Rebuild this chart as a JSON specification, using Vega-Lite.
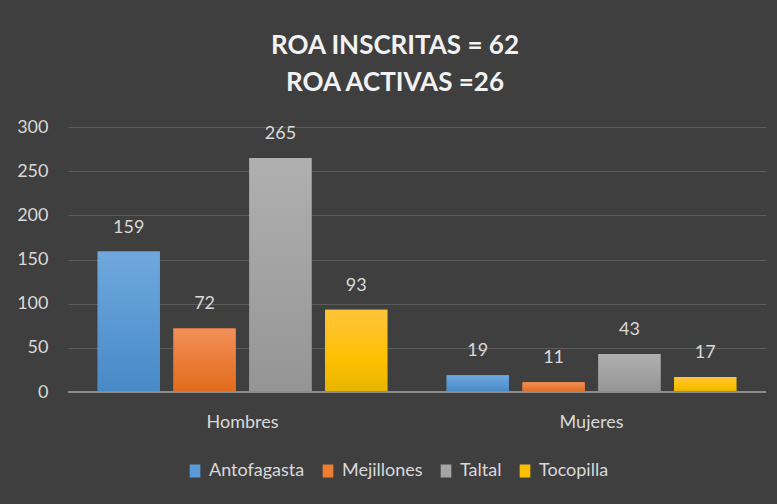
{
  "$schema": "https://vega.github.io/schema/vega-lite/v6.json",
  "width": 698,
  "height": 265,
  "autosize": {"type": "none"},
  "padding": {"left": 68, "top": 127, "right": 11, "bottom": 112},
  "background": "#3f3f3f",
  "title": {
    "text": ["ROA INSCRITAS = 62", "ROA ACTIVAS =26"],
    "fontSize": 26,
    "font": "Lato",
    "fontWeight": "bold",
    "color": "#f2f2f2",
    "lineHeight": 37,
    "anchor": "middle",
    "dx": -22,
    "offset": 22
  },
  "data": {
    "values": [
      {"sexo": "Hombres", "comuna": "Antofagasta", "valor": 159},
      {"sexo": "Hombres", "comuna": "Mejillones", "valor": 72},
      {"sexo": "Hombres", "comuna": "Taltal", "valor": 265},
      {"sexo": "Hombres", "comuna": "Tocopilla", "valor": 93},
      {"sexo": "Mujeres", "comuna": "Antofagasta", "valor": 19},
      {"sexo": "Mujeres", "comuna": "Mejillones", "valor": 11},
      {"sexo": "Mujeres", "comuna": "Taltal", "valor": 43},
      {"sexo": "Mujeres", "comuna": "Tocopilla", "valor": 17}
    ]
  },
  "encoding": {
    "x": {
      "field": "sexo", "type": "nominal", "title": null,
      "scale": {"paddingInner": 0.17, "paddingOuter": 0.085},
      "axis": {"labelAngle": 0, "domain": false, "ticks": false, "labelPadding": 21, "labelFontSize": 18, "labelColor": "#d9d9d9", "labelFont": "Lato"}
    },
    "xOffset": {
      "field": "comuna", "type": "nominal",
      "scale": {"domain": ["Antofagasta", "Mejillones", "Taltal", "Tocopilla"], "paddingInner": 0.18, "paddingOuter": 0}
    },
    "y": {
      "field": "valor", "type": "quantitative", "title": null,
      "scale": {"domain": [0, 300]},
      "axis": {"values": [0, 50, 100, 150, 200, 250, 300], "domain": false, "ticks": false, "labelPadding": 20, "labelFontSize": 18, "labelColor": "#d9d9d9", "labelFont": "Lato", "gridColor": "#5c5c5c", "gridWidth": 1}
    }
  },
  "layer": [
    {
      "mark": {"type": "bar"},
      "encoding": {
        "color": {
          "field": "comuna", "type": "nominal",
          "scale": {"domain": ["Antofagasta", "Mejillones", "Taltal", "Tocopilla"], "range": ["#5b9bd5", "#ed7d31", "#a5a5a5", "#ffc000"]},
          "legend": {
            "title": null, "orient": "none", "direction": "horizontal",
            "legendX": 118, "legendY": 335,
            "symbolType": "M-0.82,-1H0.82V1H-0.82Z", "symbolSize": 169, "symbolStrokeWidth": 0,
            "labelFontSize": 18, "labelColor": "#d9d9d9", "labelFont": "Lato",
            "labelOffset": 5, "columnPadding": 14
          }
        }
      }
    },
    {
      "transform": [{"filter": "datum.comuna === 'Antofagasta'"}],
      "mark": {"type": "bar", "color": {"gradient": "linear", "x1": 0, "y1": 0, "x2": 0, "y2": 1, "stops": [{"offset": 0, "color": "#6fa8de"}, {"offset": 1, "color": "#478ac8"}]}}
    },
    {
      "transform": [{"filter": "datum.comuna === 'Mejillones'"}],
      "mark": {"type": "bar", "color": {"gradient": "linear", "x1": 0, "y1": 0, "x2": 0, "y2": 1, "stops": [{"offset": 0, "color": "#f28f58"}, {"offset": 1, "color": "#e26b1b"}]}}
    },
    {
      "transform": [{"filter": "datum.comuna === 'Taltal'"}],
      "mark": {"type": "bar", "color": {"gradient": "linear", "x1": 0, "y1": 0, "x2": 0, "y2": 1, "stops": [{"offset": 0, "color": "#b0b0b0"}, {"offset": 1, "color": "#959595"}]}}
    },
    {
      "transform": [{"filter": "datum.comuna === 'Tocopilla'"}],
      "mark": {"type": "bar", "color": {"gradient": "linear", "x1": 0, "y1": 0, "x2": 0, "y2": 1, "stops": [{"offset": 0, "color": "#ffc43c"}, {"offset": 0.6, "color": "#ffc000"}, {"offset": 1, "color": "#e6b400"}]}}
    },
    {
      "mark": {"type": "rule", "color": "#8c8c8c", "strokeWidth": 2},
      "encoding": {"y": {"datum": 0}, "x": null, "xOffset": null}
    },
    {
      "mark": {"type": "text", "baseline": "bottom", "dy": -15, "fontSize": 18, "font": "Lato", "color": "#d9d9d9"},
      "encoding": {"text": {"field": "valor", "type": "quantitative"}}
    }
  ],
  "config": {
    "view": {"stroke": null}
  }
}
